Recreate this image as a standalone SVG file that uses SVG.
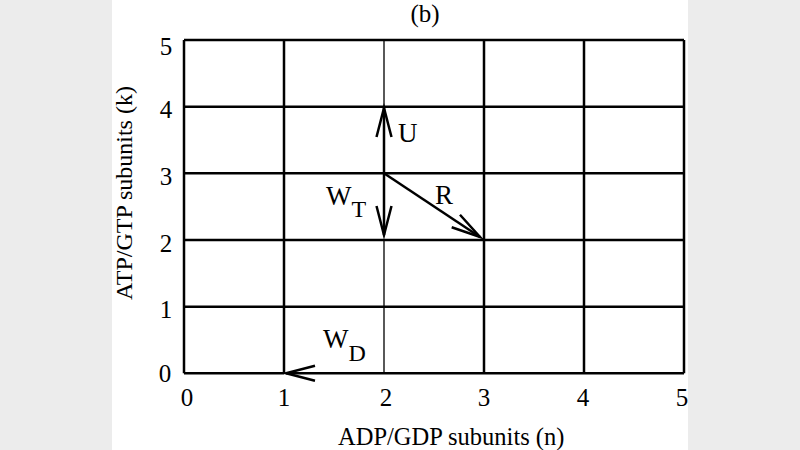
<svg xmlns="http://www.w3.org/2000/svg" width="800" height="450" viewBox="0 0 800 450">
  <style>
    .grid { stroke: #000; stroke-width: 2.5; fill: none; }
    .thin { stroke: #000; stroke-width: 1.3; fill: none; }
    .arr { stroke: #000; stroke-width: 2.5; fill: none; marker-end: url(#chev); }
    .num { font-family: "Liberation Serif", "Times New Roman", serif; font-size: 25px; fill: #000; }
    .lbl { font-family: "Liberation Serif", "Times New Roman", serif; font-size: 27px; fill: #000; }
    .sub { font-family: "Liberation Serif", "Times New Roman", serif; font-size: 24px; fill: #000; }
    .ttl { font-family: "Liberation Serif", "Times New Roman", serif; fill: #000; }
  </style>
  <defs>
    <marker id="chev" markerUnits="userSpaceOnUse" viewBox="-34 -12 40 24" markerWidth="40" markerHeight="24" refX="0" refY="0" orient="auto" overflow="visible">
      <path d="M-29,-7.5 L0,0 L-29,7.5" fill="none" stroke="#000" stroke-width="2.5"/>
    </marker>
  </defs>
  <rect x="0" y="0" width="800" height="450" fill="#fff"/>
  <rect x="0" y="0" width="112" height="450" fill="#ececec"/>
  <rect x="688" y="0" width="112" height="450" fill="#ececec"/>

  <g id="grid">
    <path class="grid" d="M184,40 H684 M184,106.7 H684 M184,173.3 H684 M184,240 H684 M184,306.7 H684 M184,373.3 H284 M384,373.3 H684"/>
    <path class="grid" d="M184,40 V373.3 M284,40 V373.3 M484,40 V373.3 M584,40 V373.3 M684,40 V373.3"/>
    <path class="thin" d="M384,40 V106.7 M384,240 V373.3"/>
  </g>

  <g id="connectors">
    <line id="U" class="arr" x1="384" y1="173.3" x2="384" y2="108"/>
    <line id="WT" class="arr" x1="384" y1="173.3" x2="384" y2="235"/>
    <line id="R" class="arr" x1="384" y1="173.3" x2="480" y2="237"/>
    <line id="WD" class="arr" x1="384" y1="373.3" x2="286" y2="373.3"/>
  </g>

  <g id="labels">
    <text class="lbl" x="398" y="142">U</text>
    <text class="lbl" x="326" y="205">W<tspan class="sub" dy="12">T</tspan></text>
    <text class="lbl" x="435" y="204">R</text>
    <text class="lbl" x="323" y="348">W<tspan class="sub" dy="13">D</tspan></text>
  </g>

  <g id="yticks" class="num" text-anchor="middle">
    <text x="166" y="55">5</text>
    <text x="166" y="118">4</text>
    <text x="166" y="185">3</text>
    <text x="166" y="252">2</text>
    <text x="166" y="318">1</text>
    <text x="165" y="382">0</text>
  </g>
  <g id="xticks" class="num" text-anchor="middle">
    <text x="187" y="406">0</text>
    <text x="284" y="406">1</text>
    <text x="386" y="406">2</text>
    <text x="484" y="406">3</text>
    <text x="583" y="406">4</text>
    <text x="682" y="406">5</text>
  </g>

  <text class="ttl" x="425" y="22" text-anchor="middle" font-size="25">(b)</text>
  <text class="ttl" x="338" y="445" font-size="24.5">ADP/GDP subunits (n)</text>
  <text class="ttl" transform="translate(132,193) rotate(-90)" text-anchor="middle" font-size="24">ATP/GTP subunits (k)</text>
</svg>
